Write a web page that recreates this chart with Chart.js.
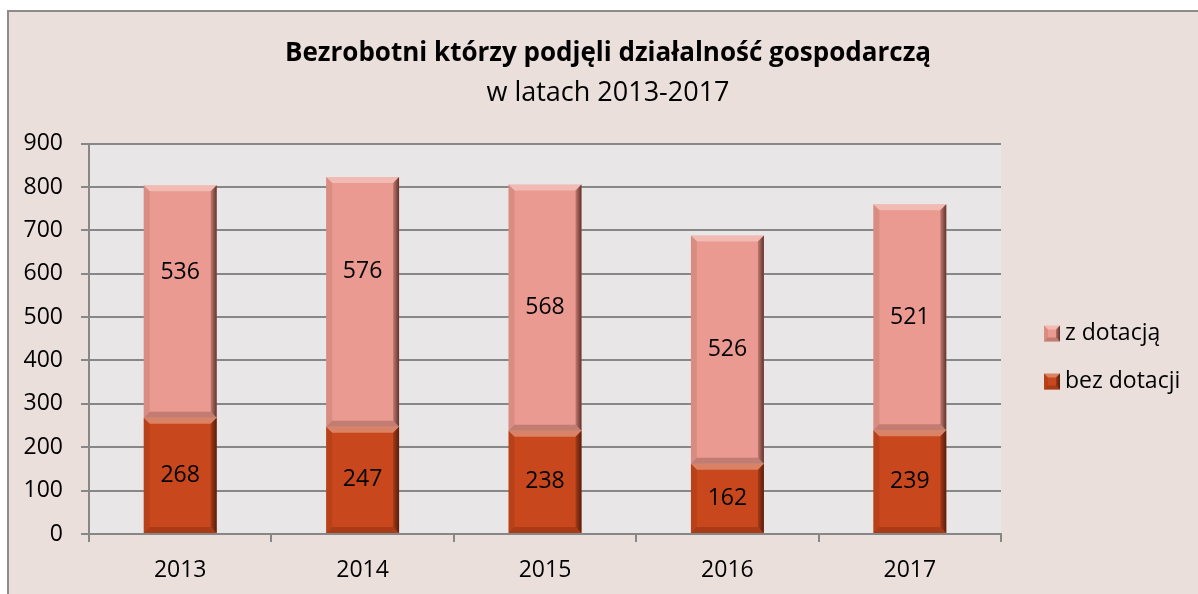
<!DOCTYPE html>
<html>
<head>
<meta charset="utf-8">
<script src="https://cdn.jsdelivr.net/npm/chart.js@4.4.1/dist/chart.umd.min.js"></script>
<style>
  html, body { margin: 0; padding: 0; background: #ffffff; }
  #chart { display: block; }
</style>
</head>
<body>
<canvas id="chart" width="1198" height="594"></canvas>
<script>
const years = ["2013", "2014", "2015", "2016", "2017"];
const bezDotacji = [268, 247, 238, 162, 239];
const zDotacja = [536, 576, 568, 526, 521];
const yMin = 0;
const yMax = 900;
const yStep = 100;

const FONT = "'Open Sans'";
const GRID = "#878787";

// frame around the chart and the grey plot area
const backgroundPlugin = {
  id: "backgroundPlugin",
  beforeDraw(chart) {
    const ctx = chart.ctx;
    const a = chart.chartArea;
    ctx.save();
    ctx.fillStyle = "#eadfdb";
    ctx.fillRect(7, 10, chart.width, chart.height);
    ctx.strokeStyle = "#8c8c8c";
    ctx.lineWidth = 2;
    ctx.strokeRect(8, 11, chart.width + 10, chart.height + 10);
    ctx.fillStyle = "#e8e6e7";
    ctx.fillRect(a.left, a.top, a.right - a.left, a.bottom - a.top);
    ctx.restore();
  }
};

function poly(ctx, pts, fill) {
  ctx.beginPath();
  ctx.moveTo(pts[0][0], pts[0][1]);
  for (let i = 1; i < pts.length; i++) ctx.lineTo(pts[i][0], pts[i][1]);
  ctx.closePath();
  ctx.fillStyle = fill;
  ctx.fill();
}

function bevel(ctx, l, t, r, b, s) {
  poly(ctx, [[l, t], [r, t], [r - s, t + s], [l + s, t + s]], "rgba(255,255,255,0.32)");
  poly(ctx, [[l, t], [l + s, t + s], [l + s, b - s], [l, b]], "rgba(60,20,10,0.10)");
  poly(ctx, [[l, b], [r, b], [r - s, b - s], [l + s, b - s]], "rgba(60,20,10,0.22)");
  const g = ctx.createLinearGradient(r - s - 2, 0, r, 0);
  g.addColorStop(0, "rgba(50,15,8,0.05)");
  g.addColorStop(1, "rgba(50,15,8,0.75)");
  poly(ctx, [[r, t], [r, b], [r - s, b - s], [r - s, t + s]], g);
}

// bevel look of the bars and value labels inside them
const barDecor = {
  id: "barDecor",
  afterDatasetsDraw(chart, args, opts) {
    const ctx = chart.ctx;
    ctx.save();
    chart.data.datasets.forEach((ds, di) => {
      const meta = chart.getDatasetMeta(di);
      meta.data.forEach((bar) => {
        const p = bar.getProps(["x", "y", "base", "width"], true);
        const l = p.x - p.width / 2, r = p.x + p.width / 2;
        const t = Math.min(p.y, p.base), b = Math.max(p.y, p.base);
        bevel(ctx, l, t, r, b, 6);
      });
    });
    ctx.font = "23px " + FONT;
    ctx.fillStyle = "#000";
    ctx.textAlign = "center";
    ctx.textBaseline = "middle";
    chart.data.datasets.forEach((ds, di) => {
      const meta = chart.getDatasetMeta(di);
      const shift = (opts.shift && opts.shift[di]) || [];
      meta.data.forEach((bar, i) => {
        const p = bar.getProps(["x", "y", "base"], true);
        ctx.fillText(String(ds.data[i]), p.x, (p.y + p.base) / 2 + (shift[i] || 0));
      });
    });
    ctx.restore();
  }
};

// legend on the right, top series first
const sideLegend = {
  id: "sideLegend",
  afterDraw(chart) {
    const ctx = chart.ctx;
    const a = chart.chartArea;
    const x = a.right + 43;
    let y = a.top + 190;
    ctx.save();
    ctx.font = "23px " + FONT;
    ctx.textBaseline = "middle";
    ctx.textAlign = "left";
    const list = chart.data.datasets.slice().reverse();
    list.forEach((ds) => {
      ctx.fillStyle = ds.backgroundColor;
      ctx.fillRect(x, y - 8, 16, 16);
      bevel(ctx, x, y - 8, x + 16, y + 8, 4);
      ctx.fillStyle = "#000";
      ctx.fillText(ds.label, x + 21, y);
      y += 48;
    });
    ctx.restore();
  }
};

new Chart(document.getElementById("chart"), {
  type: "bar",
  data: {
    labels: years,
    datasets: [
      {
        label: "bez dotacji",
        data: bezDotacji,
        backgroundColor: "#c8471c",
        borderWidth: 0,
        categoryPercentage: 1,
        barPercentage: 0.4
      },
      {
        label: "z dotacją",
        data: zDotacja,
        backgroundColor: "#ea9a90",
        borderWidth: 0,
        categoryPercentage: 1,
        barPercentage: 0.4
      }
    ]
  },
  options: {
    responsive: false,
    animation: false,
    devicePixelRatio: 1,
    layout: { padding: { left: 18, right: 0, top: 10, bottom: 0 } },
    plugins: {
      legend: { display: false },
      tooltip: { enabled: false },
      title: {
        display: true,
        text: "Bezrobotni którzy podjęli działalność gospodarczą",
        color: "#000",
        font: { family: FONT, size: 26, weight: "bold" },
        padding: { top: 28, bottom: 0 }
      },
      subtitle: {
        display: true,
        text: "w latach 2013-2017",
        color: "#000",
        font: { family: FONT, size: 27 },
        padding: { top: 8, bottom: 34 }
      },
      barDecor: { shift: [[], [-29, -30, 0, 0, 0]] }
    },
    scales: {
      x: {
        stacked: true,
        grid: {
          drawOnChartArea: false,
          drawTicks: true,
          tickLength: 8,
          color: GRID,
          lineWidth: 2,
          offset: true
        },
        border: { display: true, color: GRID, width: 2 },
        ticks: {
          color: "#000",
          font: { family: FONT, size: 23 },
          padding: 15
        },
        afterFit(s) {
          s.height = 60;
          s.paddingRight = 197;
        }
      },
      y: {
        stacked: true,
        min: yMin,
        max: yMax,
        grid: { color: GRID, lineWidth: 2, tickLength: 8 },
        border: { display: true, color: GRID, width: 2 },
        ticks: {
          stepSize: yStep,
          color: "#000",
          font: { family: FONT, size: 23 },
          padding: 18
        },
        afterFit(s) {
          s.width = 71;
        }
      }
    }
  },
  plugins: [backgroundPlugin, barDecor, sideLegend]
});
</script>
</body>
</html>
